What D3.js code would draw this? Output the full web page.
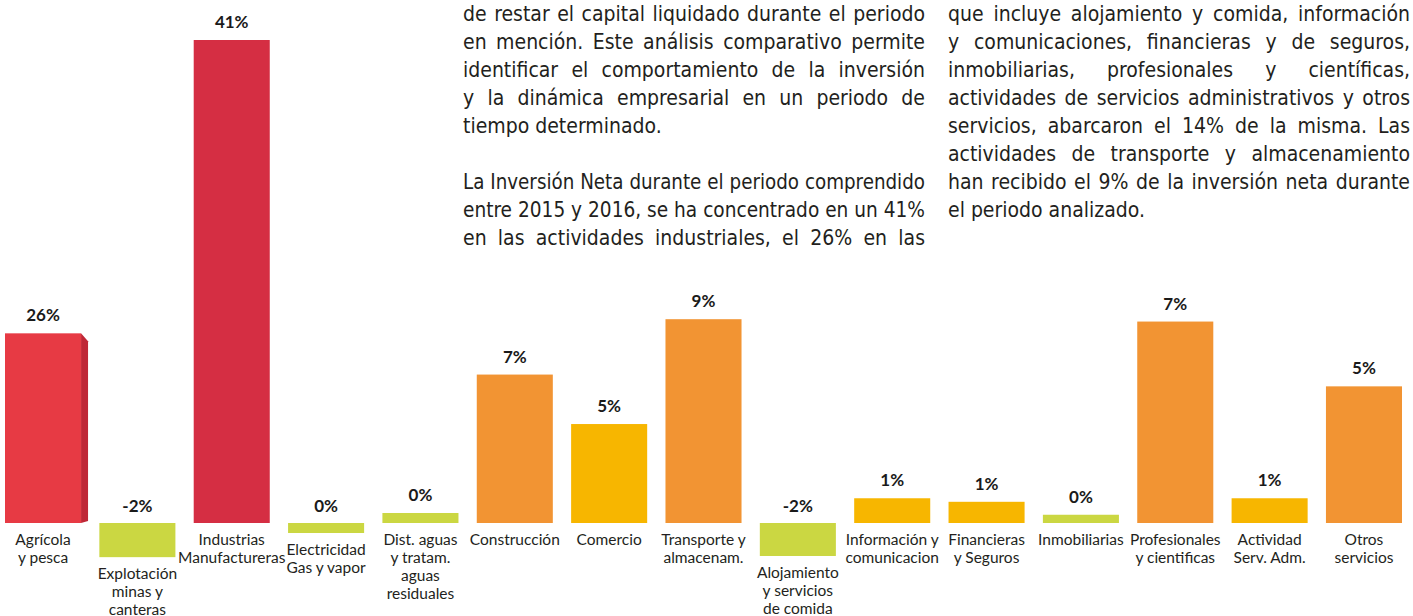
<!DOCTYPE html>
<html>
<head>
<meta charset="utf-8">
<script src="https://cdnjs.cloudflare.com/ajax/libs/d3/7.8.5/d3.min.js"></script>
<style>
  body { margin: 0; background: #fff; }
  #page { position: relative; width: 1413px; height: 616px; overflow: hidden; }
  #chart { position: absolute; left: 0; top: 0; }
  .line {
    position: absolute;
    font-family: "Liberation Sans Narrow", "DejaVu Sans Condensed", sans-serif;
    font-size: 21px;
    line-height: 28px;
    color: #231f20;
    white-space: nowrap;
  }
</style>
</head>
<body>
<div id="page">
  <svg id="chart" width="1413" height="616"></svg>
</div>
<script>
// sectores (una linea por renglon de la etiqueta)
const sectors = [
  ['Agrícola', 'y pesca'],
  ['Explotación', 'minas y', 'canteras'],
  ['Industrias', 'Manufactureras'],
  ['Electricidad', 'Gas y vapor'],
  ['Dist. aguas', 'y tratam.', 'aguas', 'residuales'],
  ['Construcción'],
  ['Comercio'],
  ['Transporte y', 'almacenam.'],
  ['Alojamiento', 'y servicios', 'de comida'],
  ['Información y', 'comunicacion'],
  ['Financieras', 'y Seguros'],
  ['Inmobiliarias'],
  ['Profesionales', 'y cientificas'],
  ['Actividad', 'Serv. Adm.'],
  ['Otros', 'servicios']
];

// porcentaje rotulado sobre cada barra
const shares = [26, -2, 41, 0, 0, 7, 5, 9, -2, 1, 1, 0, 7, 1, 5];

// largo con que se dibuja cada barra en el original (no va a escala con el rotulo)
const drawnLength = [16.1, -2.9, 41, -0.85, 0.85, 12.6, 8.4, 17.3, -2.8, 2.1, 1.8, 0.7, 17.1, 2.1, 11.6];

// grupo de color de cada sector
const groups = ['agro', 'menor', 'industria', 'menor', 'menor', 'mayor', 'medio', 'mayor',
  'menor', 'medio', 'medio', 'menor', 'mayor', 'medio', 'mayor'];

// texto de las dos columnas, renglon por renglon
const leftText = [
  'de restar el capital liquidado durante el periodo',
  'en mención. Este análisis comparativo permite',
  'identificar el comportamiento de la inversión',
  'y la dinámica empresarial en un periodo de',
  'tiempo determinado.',
  '',
  'La Inversión Neta durante el periodo comprendido',
  'entre 2015 y 2016, se ha concentrado en un 41%',
  'en las actividades industriales, el 26% en las'
];
const rightText = [
  'que incluye alojamiento y comida, información',
  'y comunicaciones, financieras y de seguros,',
  'inmobiliarias, profesionales y científicas,',
  'actividades de servicios administrativos y otros',
  'servicios, abarcaron el 14% de la misma. Las',
  'actividades de transporte y almacenamiento',
  'han recibido el 9% de la inversión neta durante',
  'el periodo analizado.'
];
// renglones que cierran parrafo (no se justifican)
const leftLast = [4, 5];
const rightLast = [7];

const svg = d3.select('#chart');
const baseY = 523;

const x = d3.scaleBand()
  .domain(d3.range(sectors.length))
  .range([5, 1402])
  .paddingInner(0.194)
  .paddingOuter(0);

const y = d3.scaleLinear()
  .domain([0, 41])
  .range([baseY, 40]);

const color = d3.scaleOrdinal()
  .domain(['agro', 'industria', 'menor', 'mayor', 'medio'])
  .range(['#e73a44', '#d52e43', '#cbd742', '#f29433', '#f7b600']);

const bars = svg.append('g');

sectors.forEach(function (s, i) {
  const v = drawnLength[i];
  const top = y(Math.max(0, v));
  const bottom = y(Math.min(0, v));

  // lado sombreado de la primera barra
  if (i === 0) {
    const x1 = x(i) + x.bandwidth();
    bars.append('path')
      .attr('d', `M${x1},${top} L${x1 + 7},${top + 8} L${x1 + 7},${bottom - 2} L${x1},${bottom} Z`)
      .style('fill', '#bf2736');
  }

  bars.append('rect')
    .attr('x', x(i))
    .attr('y', top)
    .attr('width', x.bandwidth())
    .attr('height', bottom - top)
    .style('fill', color(groups[i]));

  // rotulo de porcentaje
  svg.append('text')
    .text(shares[i] + '%')
    .attr('x', x(i) + x.bandwidth() / 2)
    .attr('y', v >= 0 ? top - 12 : baseY - 11)
    .attr('text-anchor', 'middle')
    .style('font-family', 'Lato, sans-serif')
    .style('font-weight', '700')
    .style('font-size', '17px')
    .style('fill', '#1a1a1a');

  // nombre del sector
  const firstLine = Math.max(545, bottom + 22);
  const label = svg.append('text')
    .attr('text-anchor', 'middle')
    .style('font-family', 'Lato, sans-serif')
    .style('font-size', '15.5px')
    .style('fill', '#231f20');
  s.forEach(function (t, k) {
    label.append('tspan')
      .attr('x', x(i) + x.bandwidth() / 2)
      .attr('y', firstLine + k * 18)
      .text(t);
  });
});

// columnas de texto justificado
function writeColumn(lines, lastOnes, left, width) {
  lines.forEach(function (t, k) {
    if (!t) return;
    const div = d3.select('#page').append('div')
      .attr('class', 'line')
      .style('left', left + 'px')
      .style('top', (k * 28) + 'px')
      .style('display', 'inline-block')
      .text(t);
    const natural = div.node().offsetWidth;
    if (natural > width) {
      div.style('font-size', (21 * width / natural) + 'px');
    }
    div.style('display', 'block').style('width', width + 'px');
    if (!lastOnes.includes(k)) {
      div.style('text-align', 'justify').style('text-align-last', 'justify');
    }
  });
}

writeColumn(leftText, leftLast, 463, 462);
writeColumn(rightText, rightLast, 948, 462);
</script>
</body>
</html>
